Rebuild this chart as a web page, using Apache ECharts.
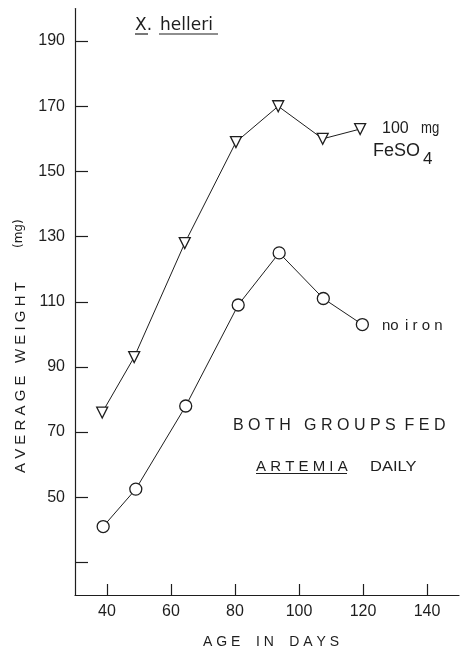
<!DOCTYPE html>
<html>
<head>
<meta charset="utf-8">
<script src="https://cdn.jsdelivr.net/npm/echarts@6/dist/echarts.min.js"></script>
<style>
  html, body { margin: 0; padding: 0; background: #fff; }
  #chart { width: 461px; height: 648px; }
</style>
</head>
<body>
<div id="chart"></div>
<script>
// Average weight (mg) of X. helleri by age (days)
const ageFeSO4 = [38.5, 48.5, 64.3, 80.3, 93.5, 107.4, 119.1];
const weightFeSO4 = [76, 93, 128, 159, 170, 160, 163];
const ageNoIron = [38.8, 49.0, 64.6, 81.0, 93.8, 107.6, 119.8];
const weightNoIron = [41, 52.5, 78, 109, 125, 111, 103];

const yTickValues = [30, 50, 70, 90, 110, 130, 150, 170, 190];
const yLabelValues = [50, 70, 90, 110, 130, 150, 170, 190];
const xTickValues = [40, 60, 80, 100, 120, 140];

const INK = '#1e1e1e';
const FONT = 'Liberation Sans';
const FONT2 = 'DejaVu Sans';

const pairs = (xs, ys) => xs.map((x, i) => [x, ys[i]]);

const chart = echarts.init(document.getElementById('chart'), null, { renderer: 'canvas' });

// text placed by its baseline (approximate descent added to the box bottom)
const txt = (x, baseline, text, size, family, rotation, scaleX) => {
  const d = Math.round(size * 0.19 * 10) / 10;
  const rot = rotation || 0;
  return {
    type: 'text',
    x: rot ? x + d : x,
    y: rot ? baseline : baseline + d,
    rotation: rot,
    scaleX: scaleX || 1,
    style: { text: text, fill: INK, font: size + 'px "' + (family || FONT) + '"',
      textAlign: 'left', textVerticalAlign: 'bottom' }
  };
};

const rule = (x1, x2, y) => ({
  type: 'line', shape: { x1: x1, y1: y, x2: x2, y2: y },
  style: { stroke: INK, lineWidth: 1.2 }
});

chart.setOption({
  animation: false,
  backgroundColor: '#fff',
  grid: { left: 75, right: 2, top: 8.5, bottom: 53 },
  xAxis: {
    type: 'value', min: 30, max: 150,
    axisLine: { show: true, onZero: false, lineStyle: { color: INK, width: 1.2 } },
    axisTick: { show: true, inside: true, length: 11, customValues: xTickValues,
      lineStyle: { color: INK, width: 1.2 } },
    axisLabel: { customValues: xTickValues, color: INK, fontFamily: FONT, fontSize: 16, margin: 9 },
    splitLine: { show: false }
  },
  yAxis: {
    type: 'value', min: 20, max: 200,
    axisLine: { show: true, onZero: false, lineStyle: { color: INK, width: 1.2 } },
    axisTick: { show: true, inside: true, length: 13, customValues: yTickValues,
      lineStyle: { color: INK, width: 1.2 } },
    axisLabel: { customValues: yLabelValues, color: INK, fontFamily: FONT, fontSize: 16, margin: 10 },
    splitLine: { show: false }
  },
  series: [
    {
      name: '100 mg FeSO4', type: 'line', data: pairs(ageFeSO4, weightFeSO4),
      symbol: 'triangle', symbolRotate: 180, symbolSize: [11, 11],
      lineStyle: { color: INK, width: 1 },
      itemStyle: { color: '#fff', borderColor: INK, borderWidth: 1.3 },
      z: 3
    },
    {
      name: 'no iron', type: 'line', data: pairs(ageNoIron, weightNoIron),
      symbol: 'circle', symbolSize: 12,
      lineStyle: { color: INK, width: 1 },
      itemStyle: { color: '#fff', borderColor: INK, borderWidth: 1.3 },
      z: 3
    }
  ],
  graphic: [
    // species name
    txt(135, 30.5, 'X.', 17, FONT2),
    txt(160, 30.5, 'helleri', 17, FONT2),
    rule(135, 148, 34),
    rule(159, 218, 34),
    // series labels
    txt(382, 134, '100', 16),
    txt(421, 134, 'mg', 16, FONT, 0, 0.82),
    txt(373, 157, 'FeSO', 18),
    txt(423, 165, '4', 17),
    txt(382, 330, 'no', 15),
    txt(405, 330, 'i r o n', 15),
    // feeding note
    txt(233, 431, 'B O T H   G R O U P S  F E D', 16),
    txt(256, 471, 'A R T E M I A', 15),
    txt(370, 471, 'DAILY', 15, FONT, 0, 1.1),
    rule(256, 347, 473.5),
    // axis titles
    txt(203, 646, 'A G E    I N    D A Y S', 14),
    txt(25, 473, 'A V E R A G E   W E I G H T', 15, FONT, Math.PI / 2),
    txt(23, 248, '(mg)', 12, FONT2, Math.PI / 2)
  ]
});
</script>
</body>
</html>
